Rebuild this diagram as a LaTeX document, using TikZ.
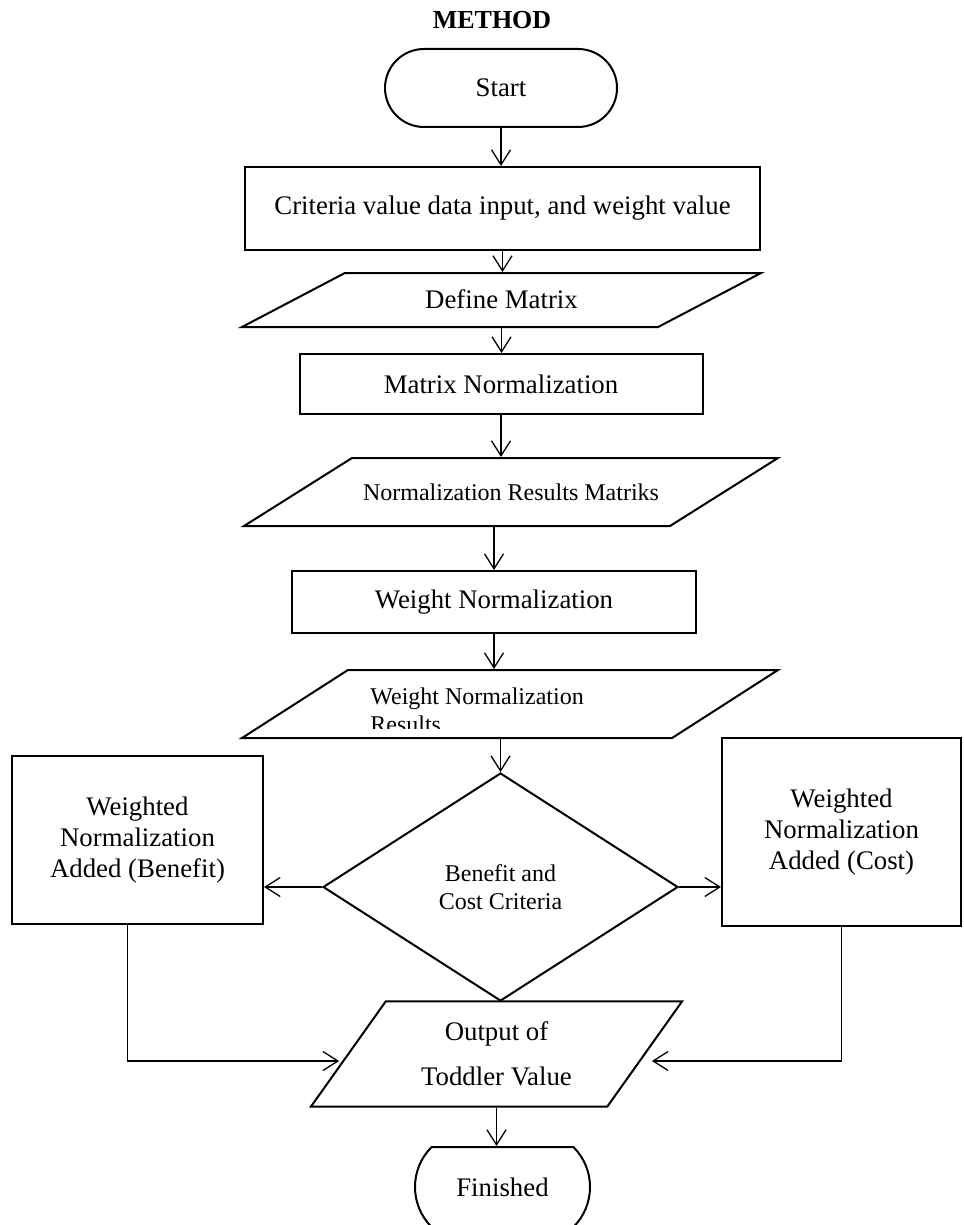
\documentclass[tikz,border=0pt]{standalone}
\usepackage{fontspec}
\setmainfont{Liberation Serif}
\usepackage{tikz}
\usetikzlibrary{arrows.meta,positioning,shapes.geometric,shapes.misc}

\begin{document}
\begin{tikzpicture}
    [x=0.5pt,y=-0.5pt,>={Straight Barb[length=7.5pt,width=9.5pt]},
     flow/.style={->,line width=0.65pt},
     big/.style={font=\fontsize{13.4}{15.5}\selectfont},
     small/.style={font=\fontsize{12}{14}\selectfont},
     terminal/.style={draw,line width=1pt,rounded rectangle,inner sep=0pt,big},
     proc/.style={draw,line width=1pt,align=center,inner sep=0pt,big},
     io/.style={draw,line width=1pt,trapezium,trapezium stretches body,align=center,inner sep=0pt},
     decision/.style={draw,line width=1pt,diamond,align=center,inner sep=0pt,small}]

    \useasboundingbox (0,0) rectangle (963,1225);

    \node[font=\bfseries\fontsize{13}{16}\selectfont] (title) at (492,20) {METHOD};

    \node[terminal,minimum width=116pt,minimum height=39pt] (start) at (501,88) {Start};
    \node[proc,minimum width=257.5pt,minimum height=41.5pt] (input) at (502.5,208.5)
        {Criteria value data input, and weight value};
    \node[io,big,trapezium left angle=27.7,trapezium right angle=152.3,text height=17.9pt,text depth=9.1pt,
          minimum width=259.5pt,minimum height=27pt] (defm) at (501.5,300) {Define Matrix};
    \node[proc,minimum width=201.5pt,minimum height=30pt] (mnorm) at (501,384) {Matrix Normalization};
    \node[io,small,trapezium left angle=32.2,trapezium right angle=147.8,text height=21pt,text depth=13pt,
          minimum width=267pt,minimum height=34pt] (nrm) at (511,492) {Normalization Results Matriks};
    \node[proc,minimum width=202pt,minimum height=31pt] (wnorm) at (494,602) {Weight Normalization};
    \node[io,trapezium left angle=32.7,trapezium right angle=147.3,text height=17pt,text depth=17pt,
          minimum width=268pt,minimum height=34pt] (wnr) at (510,704) {};
    \begin{scope}
      \clip (242,670) rectangle (778,728);
      \node[anchor=north west,inner sep=0pt,align=left,small] (wnrtext) at (370,687)
          {Weight Normalization\\Results};
    \end{scope}
    \node[decision,minimum width=177.5pt,minimum height=114pt] (crit) at (500.5,887)
        {Benefit and\\Cost Criteria};
    \node[proc,minimum width=125.5pt,minimum height=84pt] (ben) at (137.5,840)
        {Weighted\\Normalization\\Added (Benefit)};
    \node[proc,minimum width=119.5pt,minimum height=94pt] (cost) at (841.5,832)
        {Weighted\\Normalization\\Added (Cost)};
    \node[io,font=\fontsize{13.4}{22.5}\selectfont,trapezium left angle=54.6,trapezium right angle=125.4,
          inner ysep=10.2pt,minimum width=185.5pt,minimum height=52pt] (out) at (496.5,1054)
        {Output of\\Toddler Value};
    \node[terminal,rounded rectangle arc length=90,minimum width=87.5pt,minimum height=40pt] (fin)
        at (502.5,1187) {Finished};

    % main line
    \draw[flow] (start.south) -- (start.south |- input.north);
    \draw[flow] (input.south) -- (input.south |- defm.north);
    \draw[flow] (defm.south) -- (defm.south |- mnorm.north);
    \draw[flow] (mnorm.south) -- (mnorm.south |- nrm.north);
    \draw[flow] (wnorm.north |- nrm.south) -- (wnorm.north);
    \draw[flow] (wnorm.south) -- (wnorm.south |- wnr.north);
    \draw[flow] (crit.north |- wnr.south) -- (crit.north);

    % branches
    \draw[flow] (crit.west) -- (crit.west -| ben.east);
    \draw[flow] (crit.east) -- (crit.east -| cost.west);
    \draw[flow] ([xshift=-5pt]ben.south) |- ([shift={(-4pt,-3.5pt)}]out.west);
    \draw[flow] (cost.south) |- ([shift={(3pt,-3.5pt)}]out.east);
    \draw[flow] (out.south) -- (out.south |- fin.north);

\end{tikzpicture}
\end{document}
